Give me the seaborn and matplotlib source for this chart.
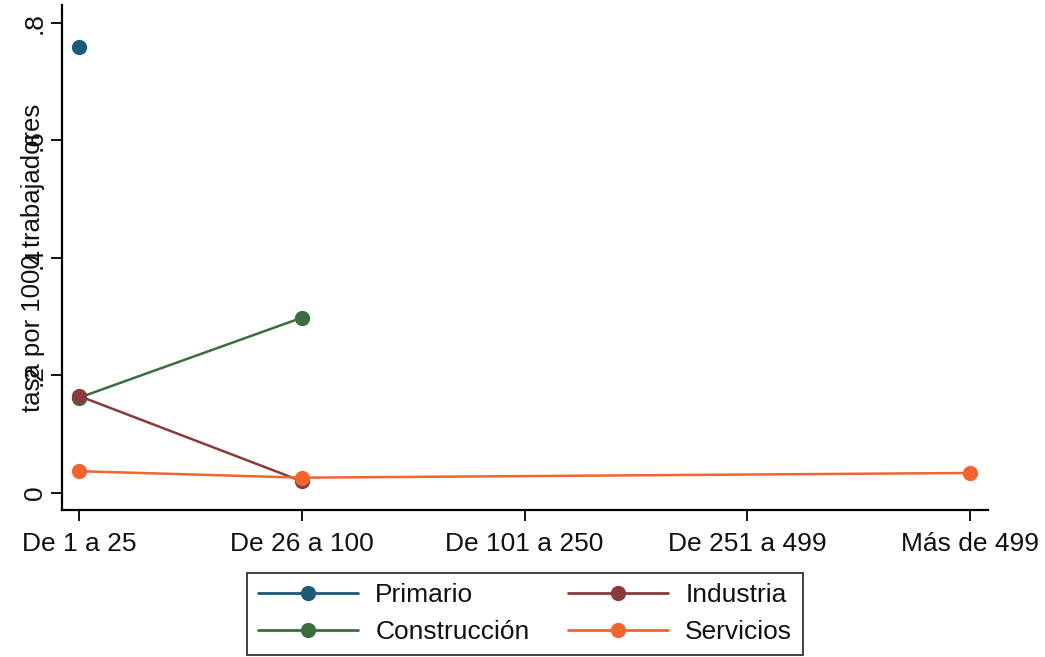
import numpy as np
import pandas as pd
import matplotlib
matplotlib.use("Agg")
import matplotlib.pyplot as plt
import seaborn as sns

# categorias de tamaño de empresa
categorias = ["De 1 a 25", "De 26 a 100", "De 101 a 250", "De 251 a 499", "Más de 499"]

# tasas (nan = sin dato)
primario = [0.759, np.nan, np.nan, np.nan, np.nan]
industria = [0.165, 0.020, np.nan, np.nan, np.nan]
construccion = [0.162, 0.298, np.nan, np.nan, np.nan]
servicios = [0.037, 0.026, np.nan, np.nan, 0.034]

sectores = ["Primario", "Construcción", "Industria", "Servicios"]
colores = {"Primario": "#1b5a78", "Industria": "#8a3a3f",
           "Construcción": "#3a6e3e", "Servicios": "#f26430"}

rows = []
for nombre, vals in zip(["Primario", "Industria", "Construcción", "Servicios"],
                        [primario, industria, construccion, servicios]):
    for i, v in enumerate(vals):
        rows.append({"pos": i, "tasa": v, "sector": nombre})
df = pd.DataFrame(rows).dropna()

sns.set_style("white")
plt.rcParams["font.family"] = ["Liberation Sans", "DejaVu Sans"]
plt.rcParams["text.color"] = "#111111"
plt.rcParams["xtick.color"] = "#111111"
plt.rcParams["ytick.color"] = "#111111"
plt.rcParams["axes.labelcolor"] = "#111111"

fig = plt.figure(figsize=(10.45, 6.57), dpi=100)
ax = fig.add_axes([62 / 1045, 1 - 510 / 657, (988 - 62) / 1045, (510 - 5) / 657])

sns.lineplot(data=df, x="pos", y="tasa", hue="sector", hue_order=sectores,
             palette=colores, marker="o", markersize=11, markeredgewidth=0,
             linewidth=1.8, ax=ax, legend=False)

ax.set_xlim(-0.076, 4.08)
ax.set_ylim(-0.029, 0.83)
ax.set_xticks(range(len(categorias)))
ax.set_xticklabels(categorias, fontsize=19)
ax.set_yticks([0, 0.2, 0.4, 0.6, 0.8])
ax.set_yticklabels(["0", ".2", ".4", ".6", ".8"], fontsize=19, rotation=90, va="center")
ax.set_xlabel("")
ax.set_ylabel("tasa por 1000 trabajadores", fontsize=18.5, labelpad=-16)
ax.tick_params(axis="both", bottom=True, left=True, direction="out",
               length=8, width=1.3, color="black")
ax.tick_params(axis="x", pad=8)
ax.tick_params(axis="y", pad=3)

sns.despine(ax=ax)
for s in ["left", "bottom"]:
    ax.spines[s].set_color("black")
    ax.spines[s].set_linewidth(1.6)

# leyenda abajo en dos columnas
handles = [plt.Line2D([], [], color=colores[s], marker="o", markersize=11,
                      markeredgewidth=0, linewidth=2) for s in sectores]
leg = fig.legend(handles, sectores, loc="lower center", bbox_to_anchor=(525 / 1045, 2 / 657),
                 ncol=2, fontsize=19, frameon=True, fancybox=False, edgecolor="black",
                 handlelength=3.8, handletextpad=0.65, columnspacing=1.45,
                 borderpad=0.4, labelspacing=0.5, borderaxespad=0)
leg.get_frame().set_linewidth(1.3)

fig.savefig("out.png", dpi=100)
